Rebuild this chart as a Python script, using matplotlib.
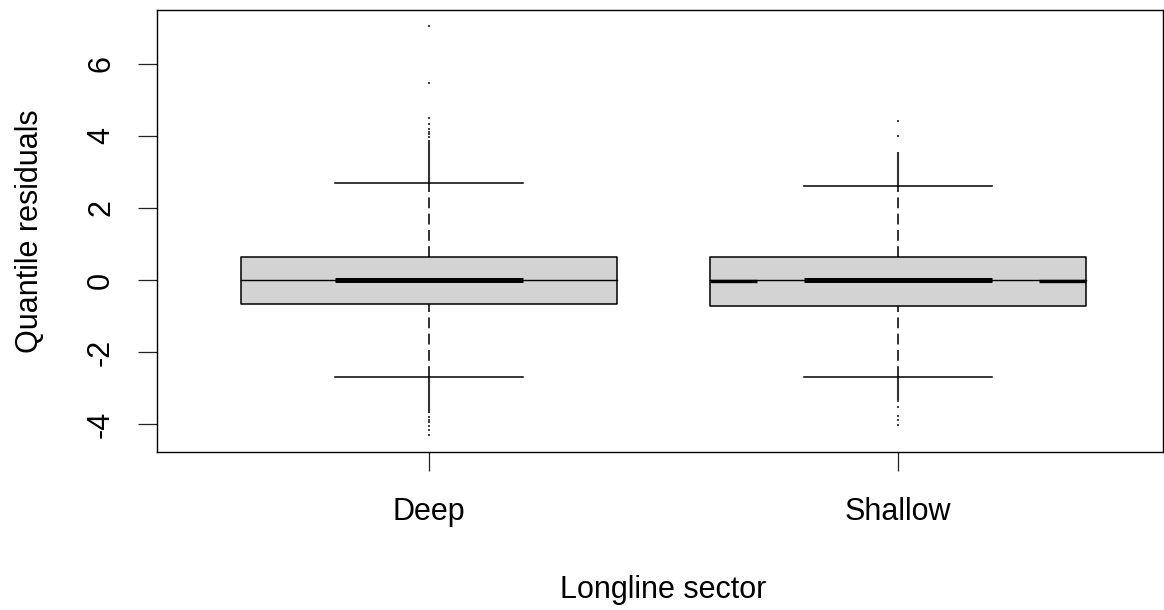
import matplotlib
matplotlib.use('Agg')
import matplotlib.pyplot as plt

plt.rcParams['font.family'] = ['Liberation Sans', 'DejaVu Sans']

# Box statistics
groups = ['Deep', 'Shallow']
positions = [1, 2]
q1 = [-0.667, -0.72]
q3 = [0.65, 0.65]
medians = [0.0, 0.0]
whisk_lo = [-2.69, -2.69]
whisk_hi = [2.69, 2.62]

# Outliers: dense runs that merge into a solid line, then single points
dense_hi = [(2.69, 3.89), (2.62, 3.56)]
dense_lo = [(-3.69, -2.69), (-3.33, -2.69)]
sparse_out = [
    [3.98, 4.05, 4.12, 4.2, 4.33, 4.5, 5.48, 7.06, -3.8, -3.88, -3.96, -4.05, -4.18, -4.3],
    [4.0, 4.42, -3.36, -3.52, -3.78, -3.9, -4.02],
]

fig = plt.figure(figsize=(11.64, 6.10), dpi=100)
ax = fig.add_axes([157 / 1164, 158 / 610, 1006 / 1164, 442 / 610])

box_half = 0.4
staple_half = 0.2

for i, x in enumerate(positions):
    # box
    ax.fill_between([x - box_half, x + box_half], q1[i], q3[i], facecolor='#d3d3d3',
                    edgecolor='black', linewidth=1.1, zorder=2)
    # thin median across the box, thick in the middle
    ax.plot([x - box_half, x + box_half], [medians[i]] * 2, color='black', lw=1.0, zorder=3)
    ax.plot([x - staple_half, x + staple_half], [medians[i]] * 2, color='black', lw=3.6,
            solid_capstyle='butt', zorder=3)
    # whiskers
    ax.plot([x, x], [q3[i], whisk_hi[i]], color='#222222', lw=1.3, linestyle=(0, (6, 3)), zorder=1)
    ax.plot([x, x], [whisk_lo[i], q1[i]], color='#222222', lw=1.3, linestyle=(0, (6, 3)), zorder=1)
    # staples
    ax.plot([x - staple_half, x + staple_half], [whisk_hi[i]] * 2, color='black', lw=1.1, zorder=3)
    ax.plot([x - staple_half, x + staple_half], [whisk_lo[i]] * 2, color='black', lw=1.1, zorder=3)
    # dense outlier runs
    ax.plot([x, x], dense_hi[i], color='#333333', lw=1.5, solid_capstyle='butt', zorder=1)
    ax.plot([x, x], dense_lo[i], color='#333333', lw=1.5, solid_capstyle='butt', zorder=1)
    # single outliers
    ax.plot([x] * len(sparse_out[i]), sparse_out[i], linestyle='none', marker='s',
            markersize=2.0, markeredgewidth=0, color='#444444', zorder=1)

# extra thick median pieces near the edges of the Shallow box
ax.plot([2 - 0.4, 2 - 0.30], [-0.04, -0.04], color='black', lw=2.4, solid_capstyle='butt', zorder=3)
ax.plot([2 + 0.30, 2 + 0.4], [-0.04, -0.04], color='black', lw=2.4, solid_capstyle='butt', zorder=3)

ax.set_xlim(0.42, 2.565)
ax.set_ylim(-4.78, 7.5)

ax.set_xticks(positions)
ax.set_xticklabels(groups)
ax.set_yticks([-4, -2, 0, 2, 4, 6])
ax.set_yticklabels(['-4', '-2', '0', '2', '4', '6'], rotation=90, va='center')

ax.tick_params(axis='both', length=13.5, width=0.9, labelsize=22, color='#222222')
ax.tick_params(axis='x', pad=19)
ax.tick_params(axis='y', pad=16)

for spine in ax.spines.values():
    spine.set_linewidth(1.0)
    spine.set_color('black')

ax.set_xlabel('Longline sector', fontsize=22)
ax.set_ylabel('Quantile residuals', fontsize=22)
ax.xaxis.set_label_coords(0.503, -0.279)
ax.yaxis.set_label_coords(-0.111, 0.5)

fig.savefig('out.png', dpi=100)
